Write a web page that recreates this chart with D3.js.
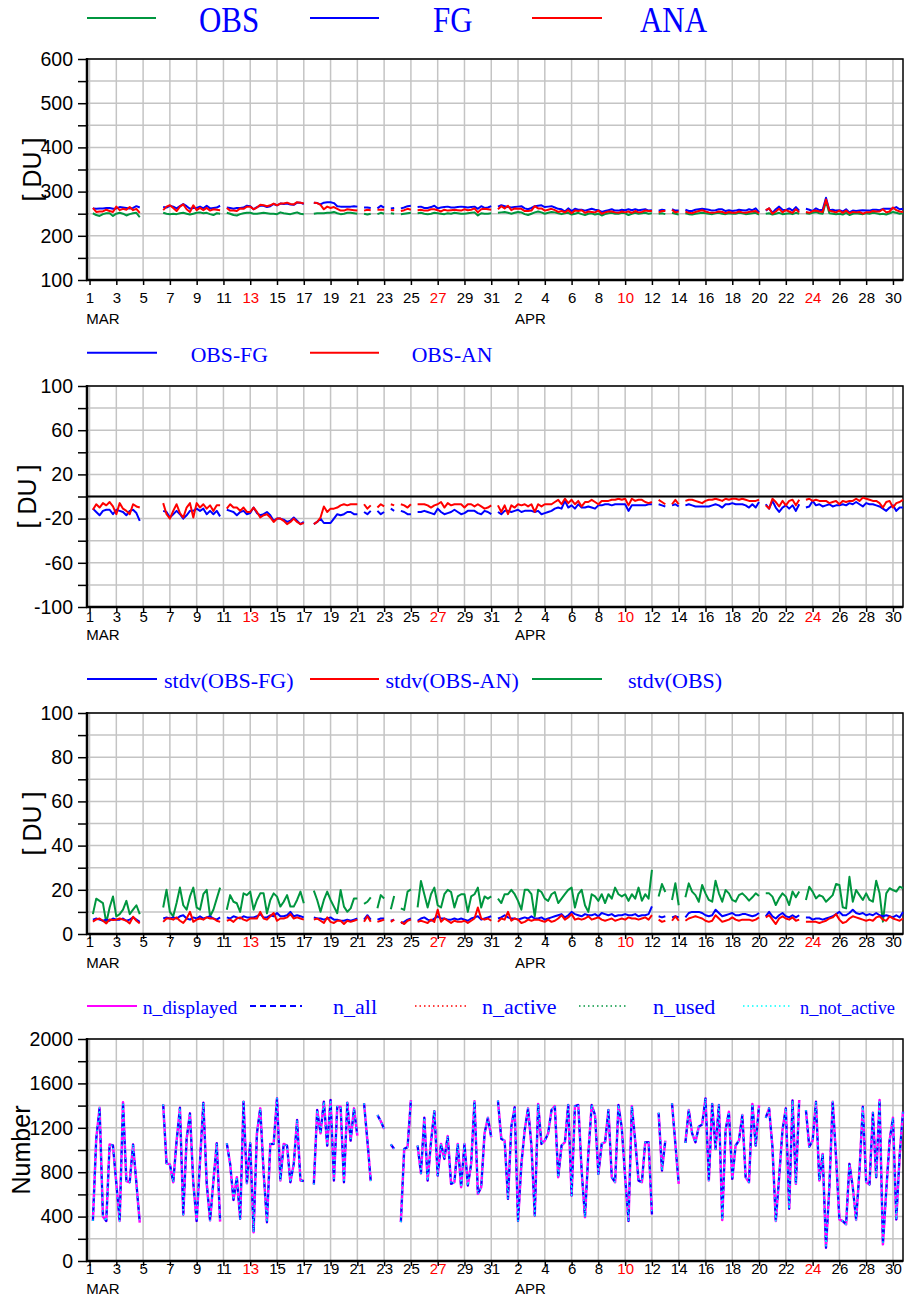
<!DOCTYPE html>
<html>
<head>
<meta charset="utf-8">
<script src="https://cdn.jsdelivr.net/npm/d3@7"></script>
<style>
  body { margin: 0; background: #fff; }
  svg text { font-family: "Liberation Sans", Arial, sans-serif; }
  .leg text { font-family: "Liberation Serif", "Times New Roman", serif; }
</style>
</head>
<body>
<div id="chart"></div>
<script>
// 6-hourly values, time in days since 1 MAR 00 UTC; each series is split in the
// same continuous segments (gaps = no data), segStart = index of the first value
const STEP = 0.25;
const segStart = [1, 22, 41, 67, 82, 86, 90, 93, 98, 122, 170, 174, 178, 202, 214];

// mean OBS [DU]
const obs = [
  [251,247,245,249,251,251,245,250,252,250,246,249,251,252,242],
  [252,250,249,250,249,251,252,250,248,250,252,253,251,252,249,247,251,250],
  [252,250,247,246,249,251,252,252,250,250,251,252,251,250,250,249,253,251,250,249,251,253,250,249],
  [250,251,251,251,252,252,254,251,249,250,252,252,251,250],
  [250,248,250],
  [249,252,250],
  [251,250],
  [249,250,251,252],
  [251,252,250,249,250,252,251,250,249,251,250,252,251,250,250,251,252,253,246,251,250,250,251],
  [252,253,254,252,250,252,254,253,249,247,250,253,255,253,250,252,254,253,251,249,
   251,252,248,250,252,249,247,250,251,248,250,246,249,251,252,250,250,252,251,247,
   250,252,250,251,252,250,251],
  [250,251,249],
  [252,250,248],
  [251,249,248,250,251,252,251,250,249,251,252,250,249,251,250,250,252,251,249,250,251,252,248],
  [250,251,248,250,252,249,250,251,249,252,250],
  [251,250,252,254,251,250,278,251,250,249,250,248,252,247,250,251,250,249,251,250,252,251,249,250,248,251,254,252,250,251]
];

// mean OBS-FG [DU]
const depFG = [
  [-11,-14,-17,-13,-12,-12,-16,-12,-13,-14,-17,-13,-12,-15,-22],
  [-13,-14,-19,-16,-13,-16,-20,-17,-13,-13,-11,-13,-11,-16,-13,-16,-13,-18],
  [-12,-13,-14,-17,-14,-13,-16,-15,-10,-15,-17,-16,-14,-17,-22,-20,-20,-21,-23,-22,-19,-22,-25,-23],
  [-25,-23,-20,-24,-24,-24,-20,-16,-17,-16,-14,-14,-16,-16],
  [-14,-16,-13],
  [-13,-16,-14],
  [-11,-13],
  [-13,-14,-16,-16],
  [-14,-14,-13,-14,-15,-16,-11,-14,-16,-15,-14,-12,-14,-16,-15,-13,-13,-13,-15,-16,-13,-14,-16],
  [-14,-16,-13,-13,-14,-13,-12,-14,-13,-13,-13,-14,-13,-16,-15,-14,-13,-11,-10,-11,
   -4,-10,-8,-11,-7,-10,-10,-9,-10,-11,-8,-8,-7,-7,-8,-7,-7,-7,-7,-13,
   -8,-8,-8,-8,-8,-7,-7],
  [-7,-8,-9],
  [-8,-7,-9],
  [-8,-7,-8,-9,-9,-9,-9,-9,-8,-7,-8,-10,-7,-7,-6,-7,-7,-7,-8,-10,-7,-10,-5],
  [-7,-11,-4,-10,-14,-10,-8,-11,-8,-13,-7],
  [-10,-9,-4,-8,-7,-9,-8,-7,-9,-8,-8,-7,-8,-6,-7,-5,-7,-9,-6,-7,-7,-8,-9,-11,-13,-10,-8,-13,-10,-10]
];

// mean OBS-AN [DU]
const depAN = [
  [-12,-7,-10,-6,-8,-5,-9,-16,-6,-11,-13,-16,-7,-9,-10],
  [-6,-16,-20,-13,-7,-15,-19,-10,-6,-19,-6,-10,-7,-11,-8,-13,-8,-8],
  [-11,-7,-10,-10,-13,-10,-14,-14,-10,-14,-19,-17,-16,-19,-23,-20,-20,-22,-25,-23,-20,-23,-25,-24],
  [-25,-23,-19,-9,-14,-11,-11,-10,-8,-7,-8,-7,-7,-7],
  [-7,-11,-8],
  [-10,-7,-9],
  [-7,-8],
  [-7,-8,-10,-7],
  [-7,-7,-7,-8,-10,-8,-7,-5,-10,-6,-8,-7,-7,-7,-10,-7,-7,-9,-7,-9,-11,-10,-8],
  [-8,-14,-8,-16,-8,-10,-7,-8,-7,-9,-7,-14,-7,-9,-7,-7,-7,-5,-3,-7,
   -2,-6,-3,-7,-4,-9,-5,-5,-3,-5,-7,-4,-4,-4,-3,-3,-2,-3,-2,-8,
   -2,-4,-3,-3,-5,-6,-5],
  [-3,-5,-7],
  [-7,-3,-7],
  [-4,-3,-3,-4,-5,-6,-4,-3,-3,-2,-3,-4,-2,-3,-2,-2,-3,-2,-3,-4,-4,-4,-3],
  [-8,-11,-2,-5,-9,-4,-8,-4,-3,-8,-3],
  [-3,-2,-4,-3,-4,-4,-4,-6,-5,-4,-7,-4,-5,-4,-4,-2,-4,-1,-2,-3,-4,-4,-6,-10,-5,-4,-10,-6,-5,-3]
];

// stdv(OBS-FG) [DU]
const sdFG = [
  [6.5,7,6.5,6,6.5,6,7,6.5,6.5,7,6,6.5,7.5,6.5,5.5],
  [7,7.5,7,7.5,7,8,8.5,7,6.5,7.5,7,8,7,7.5,8,7,6.5,7.5],
  [7.5,7,8,7.5,7,8,7.5,7.5,7.5,8,9,7.5,7.5,8.5,8,9.5,8,8,8.5,10,8,8.5,8,7.5],
  [7.5,7,7,6.5,7,7.5,6.5,6.5,6,6,6.5,6,6.5,7],
  [6.5,8.5,6.5],
  [6.5,7,7],
  [6,6.5],
  [5,5.5,6.5,7],
  [6,7,7.5,6.5,6,7,8,7,7,6.5,6.5,7,6.5,7,6.5,6,7,7.5,8,6.5,7,7.5,8],
  [7,7.5,8.5,7.5,7,7,6.5,7,7.5,7,8,7,7,7.5,6.5,7,7.5,8,8.5,9,
   7.5,8.5,10,9,8.5,8,9,8.5,8.5,9,8,9.5,9,8.5,9,8,8.5,8.5,9,8.5,
   8.5,9,8,8.5,8.5,9,12.5],
  [8,7.5,8],
  [7.5,8,7.5],
  [7.5,9.5,10,10,10,9.5,8.5,8,8.5,11,9.5,8,8.5,9,9.5,8.5,8.5,9,9,8.5,8,8.5,9.5],
  [8,10,8,7,8.5,9.5,8,7.5,8.5,7.5,8.5],
  [7.5,7.5,6.5,7,7,6.5,7,7.5,8,9,10,8.5,8.5,9.5,11,9.5,9,9.5,8.5,9,8.5,9.5,8.5,8,8.5,8,7.5,8.5,7.5,10]
];

// stdv(OBS-AN) [DU]
const sdAN = [
  [5.6,6.6,7,6,4.8,6.6,6.3,6.5,7,6.5,6,4.8,7.8,6,4.8],
  [5.5,7,7,6.5,7.5,6,5,7,10,5.5,6.5,7,6.5,7.5,7,7,6,5.5],
  [6,6.5,5.5,7,7.5,6.5,6,7,7,7,10,7,6.5,8,9.5,6,7,7,7.5,9,7,7.5,7,6.5],
  [6.5,7,6,5,7.5,5.5,5,6,6,4.5,6,5.5,6,6.5],
  [5.5,8,5.5],
  [5.5,6,6.5],
  [5.5,6.5],
  [5.5,4.5,6,6.5],
  [5.5,6,5.5,5,6.5,5.5,11,5.5,7,6,5,6,5.5,5.5,6,5,6,7,12,7,6.5,7,6],
  [5.5,7,6.5,10,6,7,6.5,5,5.5,6.5,6,6.5,6.5,6,5.5,6.5,5.5,6,7,8.5,
   6.5,7.5,9,6.5,7,6.5,7,8,6.5,7,7.5,6.5,6,6.5,7,6,6.5,7,6.5,7.5,
   7,7,6.5,7,7.5,6.5,8.5],
  [6.5,5.5,6],
  [6,8,6],
  [6,7,7.5,8,7.5,7,6,5.5,6,8.5,7,5.5,6,6.5,7.5,6.5,6,6.5,6.5,6.5,6,6.5,7.5],
  [7.5,8.5,6.5,4.5,7,8,7,6.5,7.5,6,6.5],
  [5.5,5.5,5.5,5.5,5,5.5,6,7,7.5,9,6.5,5,5.5,7,8,7.5,7,6.5,6,6.5,6,7.5,8,6.5,6,8,7,6.5,6,7]
];

// stdv(OBS) [DU]
const sdObs = [
  [9,16,15,14,5,12,17,8,9,11,15,9,11,13,9],
  [12,20,10,8,14,21,13,11,17,21,12,11,18,20,8,11,16,21],
  [11,17.6,14.6,13.9,10,18.4,17.6,19.2,11,15.4,18.4,18.4,9.4,15.4,18.4,16.9,12.4,14.6,17.6,12.4,12.4,15.4,19.2,13.9],
  [19.6,15.4,10.1,15.4,19.2,15.4,12.4,9.4,19.9,12.4,10.1,11.6,16.1,16.1],
  [13.6,14.6,16.6],
  [11.6,17.6,16.1],
  [11.2,17.2],
  [11.6,10.9,19.2,20.2],
  [12,24,18,12,18,21,13,12,18,20,19,12,17,18,18,10,17,18,21,12,17,16,17],
  [16,14,18,18,20,18,15,11,20,20,18,8,20,19,16,15,18,19,14,16,
   18,20,21,12,18,20,13,10,18,17,15,18,14,18,16,21,18,17,18,15,
   18,16,21,15,18,16,29],
  [17,22.6,19],
  [15.4,23,13],
  [16.6,22.9,19.2,17.6,14.6,22.2,18.4,15.4,14.6,24.1,18.4,14.6,19.9,18.4,15.4,14.6,17.6,18.4,16.9,15.1,16.6,18.4,17.2],
  [18.4,18.4,16.9,13.1,16.1,18.4,16.9,13.1,19.2,16.6,19.2],
  [15.4,21.4,19.2,16.1,17.6,16.9,14.6,16.1,17.6,22.6,22.2,12.1,11.6,25.9,14.6,19.9,17.6,15.4,18.4,15.4,14.6,24.1,18.4,5.6,18.4,20.7,19.9,19.2,21.4,20.7]
];

// number of observations (n_displayed = n_all = n_not_active)
const nObs = [
  [360,1100,1380,400,360,1050,1040,700,360,1430,720,710,1050,700,345],
  [1410,880,870,710,1080,1380,420,1100,1330,700,360,900,1425,700,365,720,1060,355],
  [1060,875,550,755,380,1435,700,1060,260,1150,1375,800,350,1055,1055,1465,725,1055,1040,710,875,1270,725,720],
  [690,1360,1150,1435,1040,1450,725,1390,1390,710,1425,1085,1375,1130],
  [1420,1085,720],
  [1315,1260,1190],
  [1050,1010],
  [350,1010,1025,1450],
  [1040,790,1290,725,1070,1350,770,1055,920,1125,695,710,1055,665,1055,680,875,1440,605,665,1150,1290,1115],
  [1445,1100,1085,560,1210,1385,360,875,1180,1375,1040,410,1415,1055,1085,1150,1360,1395,755,1040,
   1070,1405,590,1395,1405,815,395,965,1405,1315,785,1055,1070,1360,755,710,1405,1195,755,360,
   1395,1085,725,710,1070,1070,420],
  [1335,815,1085],
  [1420,1055,695],
  [1065,1360,1150,1070,1210,1230,1465,725,1415,1010,1405,370,1180,1345,740,1040,1085,1315,755,710,1415,1040,1405],
  [1290,1375,1025,360,755,1180,1375,470,1445,695,1450],
  [1360,1030,1085,1435,725,965,120,665,1435,935,375,360,330,875,665,370,815,1390,710,690,1335,755,1450,150,635,1085,1290,375,950,1345]
];

// x axis: a label every 2 days from 1 MAR to 30 APR
const tickLabels = ["1","3","5","7","9","11","13","15","17","19","21","23","25","27","29","31",
                    "2","4","6","8","10","12","14","16","18","20","22","24","26","28","30"];
const redLabels = ["13", "27", "10", "24"];
const months = ["MAR", "APR"];
const monthAt = [-0.25, 31.78];

const GREEN = "#00963f", BLUE = "#0000ff", RED = "#ff0000", MAGENTA = "#ff00ff", CYAN = "#00ffff";

const W = 905, H = 1299;
const svg = d3.select("#chart").append("svg")
  .attr("width", W).attr("height", H);

const x = d3.scaleLinear().domain([-0.19, 60.75]).range([87, 903]);
const tickT = d3.range(0, 61, 2);

// turn segment lists into point lists
const toPts = (segs) => segs.map((seg, k) => seg.map((v, j) => ({ t: (segStart[k] + j) * STEP, v })));
const combine = (a, b, f) => a.map((seg, k) => seg.map((v, j) => f(v, b[k][j])));

const panels = [
  { top: 59, bottom: 280, domain: [100, 600], gridStep: 50, labelStep: 100,
    title: "[ DU ]", titleX: 32, tickBase: 302.5, monBase: 324,
    series: [
      { segs: obs, color: GREEN },
      { segs: combine(obs, depFG, (o, d) => o - d), color: BLUE },
      { segs: combine(obs, depAN, (o, d) => o - d), color: RED }
    ],
    legend: { lineY: 18, textY: 32, size: 36, sx: 0.86, items: [
      { label: "OBS", color: GREEN, x1: 87, x2: 156, tx: 199 },
      { label: "FG", color: BLUE, x1: 310, x2: 379, tx: 433 },
      { label: "ANA", color: RED, x1: 532, x2: 602, tx: 640 } ] } },
  { top: 386, bottom: 607, domain: [-100, 100], gridStep: 20, labelStep: 40,
    title: "[ DU ]", titleX: 27, tickBase: 621.5, monBase: 640, zero: true,
    series: [
      { segs: depFG, color: BLUE },
      { segs: depAN, color: RED }
    ],
    legend: { lineY: 352.7, textY: 361.7, size: 21.7, items: [
      { label: "OBS-FG", color: BLUE, x1: 87, x2: 157, tx: 190.7 },
      { label: "OBS-AN", color: RED, x1: 310, x2: 379, tx: 411.7 } ] } },
  { top: 713, bottom: 934, domain: [0, 100], gridStep: 10, labelStep: 20,
    title: "[ DU ]", titleX: 32, tickBase: 946.5, monBase: 968,
    series: [
      { segs: sdObs, color: GREEN },
      { segs: sdFG, color: BLUE },
      { segs: sdAN, color: RED }
    ],
    legend: { lineY: 679, textY: 687.5, size: 22, items: [
      { label: "stdv(OBS-FG)", color: BLUE, x1: 87, x2: 157, tx: 164 },
      { label: "stdv(OBS-AN)", color: RED, x1: 310, x2: 379, tx: 385.5 },
      { label: "stdv(OBS)", color: GREEN, x1: 532, x2: 602, tx: 628 } ] } },
  { top: 1039, bottom: 1261, domain: [0, 2000], gridStep: 200, labelStep: 400,
    title: "Number", titleX: 21, tickBase: 1273.5, monBase: 1293.5,
    series: [
      { segs: nObs, color: MAGENTA, width: 2.5 },
      { segs: nObs, color: BLUE, width: 2, dash: "5,4" },
      { segs: nObs, color: CYAN, width: 1.5, dash: "1.5,3" }
    ],
    legend: { lineY: 1006, textY: 1014.3, size: 22, items: [
      { label: "n_displayed", color: MAGENTA, x1: 87, x2: 137, tx: 142.7, size: 19.6 },
      { label: "n_all", color: BLUE, x1: 250, x2: 302, tx: 333, dash: "6,4" },
      { label: "n_active", color: RED, x1: 415, x2: 467, tx: 482, dash: "1.5,3", lw: 1.5 },
      { label: "n_used", color: GREEN, x1: 579, x2: 627, tx: 653, dash: "1.5,3", lw: 1.5 },
      { label: "n_not_active", color: CYAN, x1: 743, x2: 792, tx: 800, size: 18.4, dash: "1.5,3", lw: 1.5 } ] } }
];

panels.forEach(p => {
  const g = svg.append("g");
  const y = d3.scaleLinear().domain(p.domain).range([p.bottom, p.top]);
  const gridVals = d3.range(p.domain[0], p.domain[1] + 0.001, p.gridStep);
  const isLabel = d => Math.abs(((d - p.domain[0]) / p.labelStep) - Math.round((d - p.domain[0]) / p.labelStep)) < 1e-6;

  // grid
  g.append("g").selectAll("line.h").data(gridVals).join("line")
    .attr("x1", 87).attr("x2", 903)
    .attr("y1", d => y(d)).attr("y2", d => y(d))
    .attr("stroke", "#c4c4c4").attr("stroke-width", 1.5);
  g.append("g").selectAll("line.v").data(tickT).join("line")
    .attr("x1", d => x(d)).attr("x2", d => x(d))
    .attr("y1", p.top).attr("y2", p.bottom)
    .attr("stroke", "#c4c4c4").attr("stroke-width", 1.5);

  if (p.zero) {
    g.append("line").attr("x1", 87).attr("x2", 903)
      .attr("y1", y(0)).attr("y2", y(0))
      .attr("stroke", "#000").attr("stroke-width", 2);
  }

  // frame
  g.append("rect").attr("x", 87).attr("y", p.top)
    .attr("width", 903 - 87).attr("height", p.bottom - p.top)
    .attr("fill", "none").attr("stroke", "#000").attr("stroke-width", 1.5);

  // y axis
  const ya = g.append("g").attr("transform", "translate(87,0)")
    .call(d3.axisLeft(y).tickValues(gridVals).tickSize(9).tickPadding(5)
      .tickFormat(d => isLabel(d) ? d : ""));
  ya.select(".domain").remove();
  ya.selectAll(".tick line").attr("stroke", "#000").attr("stroke-width", 1.5);
  ya.selectAll("text").attr("font-size", 19.5).attr("fill", "#000")
    .attr("font-family", "'Liberation Sans', Arial, sans-serif");

  // x axis
  const xa = g.append("g").attr("transform", `translate(0,${p.bottom})`)
    .call(d3.axisBottom(x).tickValues(tickT).tickSize(5)
      .tickFormat((d, i) => tickLabels[i]));
  xa.select(".domain").remove();
  xa.selectAll(".tick line").attr("stroke", "#000").attr("stroke-width", 1.5);
  xa.selectAll("text")
    .attr("y", p.tickBase - p.bottom).attr("dy", null)
    .attr("font-size", 15)
    .attr("font-family", "'Liberation Sans', Arial, sans-serif")
    .attr("fill", (d, i) => redLabels.includes(tickLabels[i]) ? RED : "#000");

  // thick left and bottom axis lines
  g.append("line").attr("x1", 87).attr("x2", 87).attr("y1", p.top - 1).attr("y2", p.bottom + 1)
    .attr("stroke", "#000").attr("stroke-width", 2.5);
  g.append("line").attr("x1", 86).attr("x2", 903).attr("y1", p.bottom).attr("y2", p.bottom)
    .attr("stroke", "#000").attr("stroke-width", 2.5);

  g.selectAll("text.mon").data(months).join("text")
    .attr("class", "mon")
    .attr("x", (d, i) => x(monthAt[i])).attr("y", p.monBase)
    .attr("font-size", 15).attr("fill", "#000")
    .text(d => d);

  g.append("text")
    .attr("transform", `translate(${p.titleX},${(p.top + p.bottom) / 2}) rotate(-90)`)
    .attr("dy", "0.35em").attr("text-anchor", "middle")
    .attr("font-size", 25).attr("fill", "#000")
    .text(p.title);

  // data lines
  const line = d3.line().x(d => x(d.t)).y(d => y(d.v));
  p.series.forEach(s => {
    g.append("g").selectAll("path").data(toPts(s.segs)).join("path")
      .attr("d", line)
      .attr("fill", "none")
      .attr("stroke", s.color)
      .attr("stroke-width", s.width || 2)
      .attr("stroke-dasharray", s.dash || null)
      .attr("stroke-linejoin", "round");
  });

  // legend
  const lg = svg.append("g").attr("class", "leg");
  p.legend.items.forEach(it => {
    lg.append("line")
      .attr("x1", it.x1).attr("x2", it.x2)
      .attr("y1", p.legend.lineY).attr("y2", p.legend.lineY)
      .attr("stroke", it.color).attr("stroke-width", it.lw || 2)
      .attr("stroke-dasharray", it.dash || null);
    lg.append("text")
      .attr("transform", `translate(${it.tx},${p.legend.textY}) scale(${p.legend.sx || 1},1)`)
      .attr("font-size", it.size || p.legend.size)
      .attr("fill", BLUE)
      .text(it.label);
  });
});
</script>
</body>
</html>
